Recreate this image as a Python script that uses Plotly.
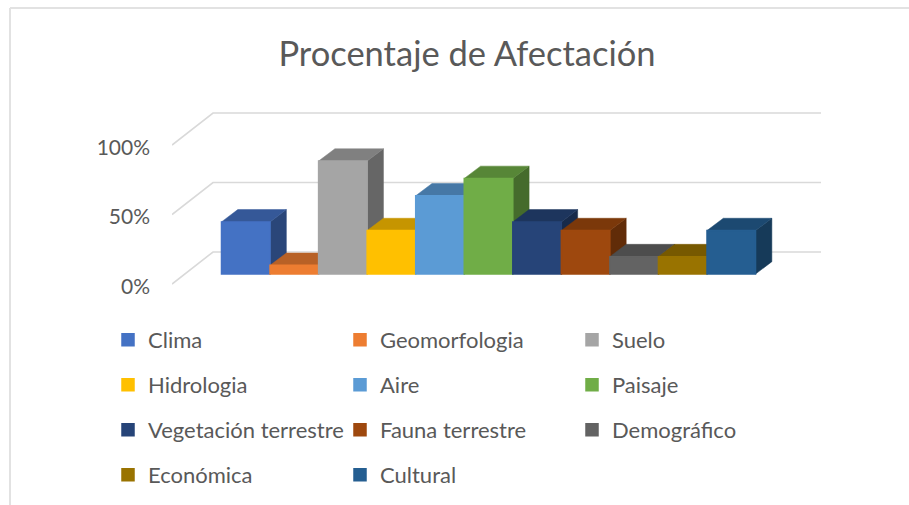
import plotly.graph_objects as go

title = "Procentaje de Afectación"
categories = ["Clima", "Geomorfologia", "Suelo", "Hidrologia", "Aire", "Paisaje",
              "Vegetación terrestre", "Fauna terrestre", "Demográfico", "Económica", "Cultural"]
values = [37.5, 6.25, 81.25, 31.25, 56.25, 68.75, 37.5, 31.25, 12.5, 12.5, 31.25]
colors = ["#4472C4", "#ED7D31", "#A5A5A5", "#FFC000", "#5B9BD5", "#70AD47",
          "#264478", "#9E480E", "#636363", "#997300", "#255E91"]
y_ticks = [0, 50, 100]
y_labels = ["0%", "50%", "100%"]

FONT = "Lato"
TXT = "#595959"
GRID = "#D9D9D9"
W, H = 909, 505
L, R, T, B = 172, 821, 100, 290      # plot box in page pixels
PX_X, PX_Y = 48.55, 1.39             # pixels per bar width / per percent
WALL_DX, WALL_DY = 41 / PX_X, 32 / PX_Y      # floor depth, in axis units
BAR_DX, BAR_DY = 16.3 / PX_X, 12.3 / PX_Y    # bar depth, in axis units
BAR_X0 = (221.5 - L) / PX_X
BAR_BASE = (284 - 274) / PX_Y
x_range = [0, (R - L) / PX_X]
y_range = [-(B - 284) / PX_Y, (284 - T) / PX_Y]
label_shift = 2.5 / PX_Y             # tick labels sit slightly below the wall lines
y_label_range = [y_range[0] + label_shift, y_range[1] + label_shift]


def px(x):
    return (x - L) / (R - L)


def py(y):
    return (B - y) / (B - T)


def shade(hex_color, k):
    return "#" + "".join(f"{int(int(hex_color[i:i + 2], 16) * k):02X}" for i in (1, 3, 5))


fig = go.Figure()

# empty trace that carries the axis with the tick labels
fig.add_trace(go.Scatter(x=[None], y=[None], yaxis="y3", showlegend=False, hoverinfo="skip"))

# walls: gridlines running back from the front plane and along the back wall
for t in y_ticks:
    fig.add_trace(go.Scatter(
        x=[0, WALL_DX, x_range[1]], y=[t, t + WALL_DY, t + WALL_DY], mode="lines",
        line=dict(color=GRID, width=1.6), showlegend=False, hoverinfo="skip"))

# top and side faces, left to right
for i, (v, c) in enumerate(zip(values, colors)):
    x0, x1 = BAR_X0 + i, BAR_X0 + i + 1
    top = BAR_BASE + v
    fig.add_trace(go.Scatter(
        x=[x1, x1 + BAR_DX, x1 + BAR_DX, x1, x1],
        y=[BAR_BASE, BAR_BASE + BAR_DY, top + BAR_DY, top, BAR_BASE],
        mode="lines", fill="toself", fillcolor=shade(c, 0.62),
        line=dict(color=shade(c, 0.62), width=0.5), showlegend=False, hoverinfo="skip"))
    fig.add_trace(go.Scatter(
        x=[x0, x1, x1 + BAR_DX, x0 + BAR_DX, x0],
        y=[top, top, top + BAR_DY, top + BAR_DY, top],
        mode="lines", fill="toself", fillcolor=shade(c, 0.78),
        line=dict(color=shade(c, 0.78), width=0.5), showlegend=False, hoverinfo="skip"))

# front faces: real bars on an overlaying pair of axes, so they sit above all faces
rows_y = [340, 385, 430, 475]
for i, (name, v, c) in enumerate(zip(categories, values, colors)):
    fig.add_trace(go.Bar(
        x=[BAR_X0 + i + 0.5], y=[v], base=BAR_BASE, width=1, name=name,
        marker=dict(color=c, line=dict(color=c, width=1.5)),
        xaxis="x2", yaxis="y2", legend="legend" if i < 3 else f"legend{i // 3 + 1}"))

layout_legends = {}
for r, y in enumerate(rows_y):
    key = "legend" if r == 0 else f"legend{r + 1}"
    layout_legends[key] = dict(
        orientation="h", x=px(125 - 17), xanchor="left", y=py(y), yanchor="middle",
        entrywidth=187, entrywidthmode="pixels", bgcolor="rgba(0,0,0,0)",
        font=dict(family=FONT, size=22, color=TXT), traceorder="normal",
        itemclick=False, itemdoubleclick=False)

fig.update_layout(
    width=W, height=H, autosize=False,
    margin=dict(l=L, r=W - R, t=T, b=H - B, autoexpand=False),
    paper_bgcolor="white", plot_bgcolor="rgba(0,0,0,0)",
    title=dict(text=title, x=467 / W, xanchor="center", y=1 - 54 / H, yanchor="middle",
               font=dict(family=FONT, size=34.5, color=TXT)),
    barmode="overlay",
    xaxis=dict(range=x_range, visible=False, fixedrange=True),
    yaxis=dict(range=y_range, visible=False, fixedrange=True),
    xaxis2=dict(range=x_range, visible=False, overlaying="x", fixedrange=True),
    yaxis2=dict(range=y_range, visible=False, overlaying="y", fixedrange=True),
    yaxis3=dict(range=y_label_range, overlaying="y", tickvals=y_ticks, ticktext=y_labels,
                showgrid=False, zeroline=False, showline=False, ticks="", ticklabelstandoff=21,
                tickfont=dict(family=FONT, size=21, color=TXT), fixedrange=True),
    shapes=[
        dict(type="line", xref="paper", yref="paper", x0=px(10), x1=px(W), y0=py(8), y1=py(8),
             line=dict(color="#E2E2E2", width=2)),
        dict(type="line", xref="paper", yref="paper", x0=px(10), x1=px(10), y0=py(H), y1=py(8),
             line=dict(color="#E2E2E2", width=2)),
    ],
    **layout_legends,
)

fig.write_html("out.html", config={"displayModeBar": False},
               post_script="document.body.style.margin='0';")
